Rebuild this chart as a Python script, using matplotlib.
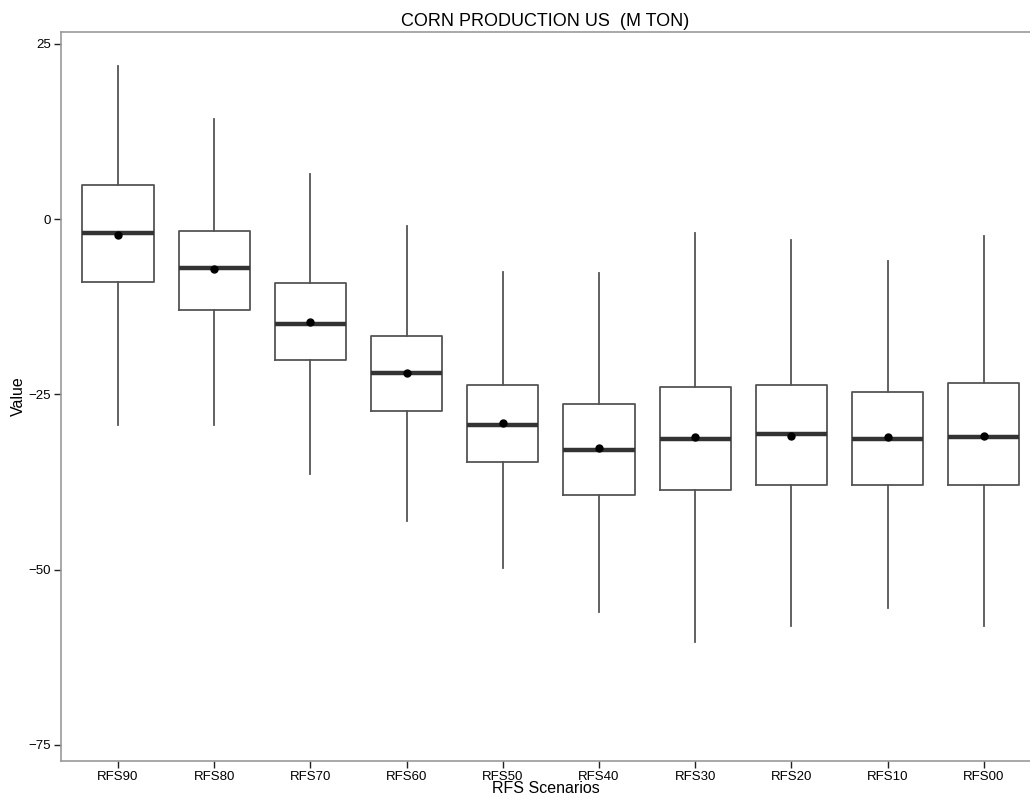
import matplotlib
matplotlib.use("Agg")
import matplotlib.pyplot as plt

# Scenario labels and box statistics
scenarios = ["RFS90", "RFS80", "RFS70", "RFS60", "RFS50",
             "RFS40", "RFS30", "RFS20", "RFS10", "RFS00"]
whisker_hi = [21.9, 14.3, 6.4, -0.9, -7.6, -7.7, -1.9, -2.9, -6.0, -2.4]
q3 = [4.9, -1.7, -9.1, -16.7, -23.6, -26.4, -24.0, -23.7, -24.7, -23.4]
median = [-2.0, -7.0, -15.0, -22.0, -29.3, -32.9, -31.4, -30.6, -31.3, -31.1]
mean = [-2.3, -7.1, -14.7, -21.9, -29.1, -32.6, -31.1, -30.9, -31.1, -31.0]
q1 = [-9.0, -12.9, -20.1, -27.4, -34.7, -39.3, -38.7, -37.9, -37.9, -37.9]
whisker_lo = [-29.4, -29.4, -36.3, -43.0, -49.7, -56.1, -60.3, -58.1, -55.4, -58.0]


def main():
    plt.rcParams["font.family"] = ["Liberation Sans", "DejaVu Sans"]

    fig = plt.figure(figsize=(10.30, 8.01), dpi=100)
    ax = fig.add_axes([0.0592, 0.0499, 0.9408, 0.9101])

    stats = []
    for i, name in enumerate(scenarios):
        stats.append({
            "label": name,
            "whislo": whisker_lo[i],
            "q1": q1[i],
            "med": median[i],
            "q3": q3[i],
            "whishi": whisker_hi[i],
            "mean": mean[i],
            "fliers": [],
        })

    positions = list(range(1, len(scenarios) + 1))
    ax.bxp(
        stats,
        positions=positions,
        widths=0.74,
        showcaps=False,
        showmeans=True,
        patch_artist=False,
        boxprops=dict(color="#555555", linewidth=1.3),
        whiskerprops=dict(color="#555555", linewidth=1.3),
        medianprops=dict(color="#333333", linewidth=3.2, solid_capstyle="butt"),
        meanprops=dict(marker="o", markerfacecolor="black",
                       markeredgecolor="black", markersize=5),
    )

    ax.set_xlim(0.4075, 10.48)
    ax.set_ylim(-77.3, 26.7)
    ax.set_yticks([25, 0, -25, -50, -75])
    ax.set_yticklabels(["25", "0", "\u221225", "\u221250", "\u221275"])
    ax.set_xticks(positions)
    ax.set_xticklabels(scenarios)

    for side in ["left", "top", "bottom"]:
        ax.spines[side].set_color("#999999")
        ax.spines[side].set_linewidth(1.2)
    ax.spines["right"].set_visible(False)

    ax.tick_params(axis="both", direction="out", length=5, width=1,
                   color="#222222", labelsize=9.5, pad=2)

    ax.set_title("CORN PRODUCTION US  (M TON)", fontsize=13, pad=4)
    ax.set_xlabel("RFS Scenarios", fontsize=11.5, labelpad=-1)
    ax.set_ylabel("Value", fontsize=11.5, labelpad=2)

    fig.savefig("out.png", dpi=100)
    plt.close(fig)


if __name__ == "__main__":
    main()
